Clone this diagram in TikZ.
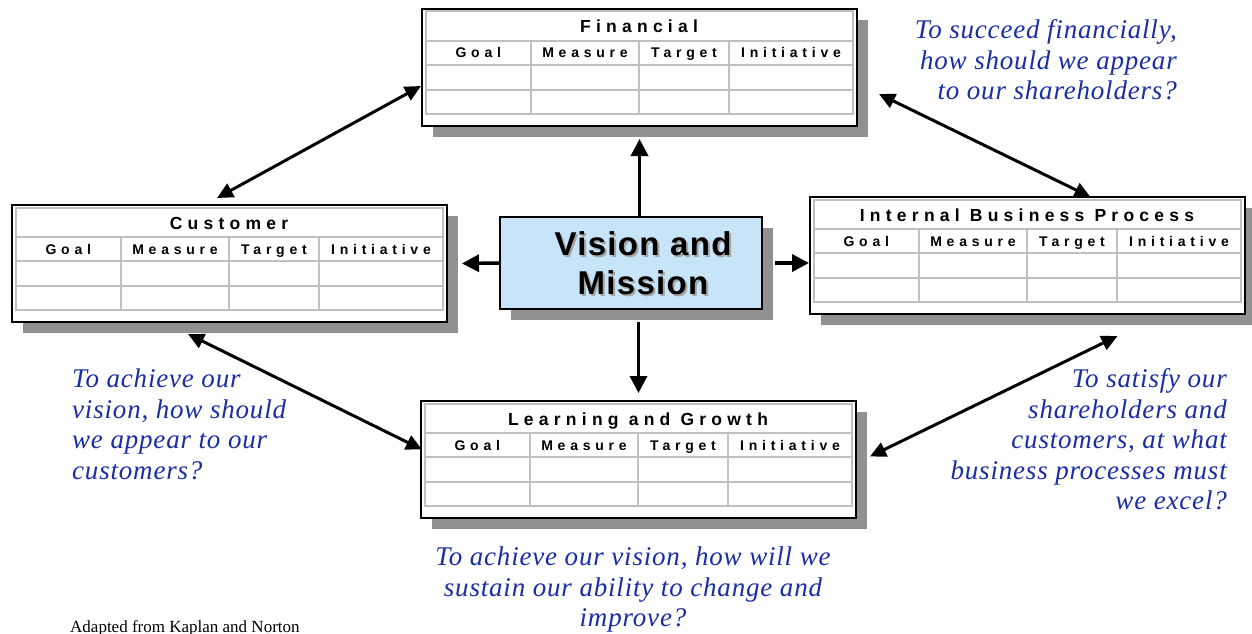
\documentclass[tikz,border=0pt]{standalone}
\usepackage{fontspec}
\setmainfont{Liberation Serif}
\newfontfamily\ttlfont{Liberation Sans}[LetterSpace=30]
\newfontfamily\hdrfont{Liberation Sans}[LetterSpace=34]
\newfontfamily\visfont{Liberation Sans}[LetterSpace=4]
\newfontfamily\qfont{Liberation Serif}[LetterSpace=3]
\usetikzlibrary{arrows.meta,shadows,calc}

\definecolor{qblue}{RGB}{25,45,165}
\definecolor{visfill}{RGB}{200,228,248}
\definecolor{shadowgray}{RGB}{145,145,145}
\definecolor{gridgray}{RGB}{192,192,192}
\definecolor{textshade}{RGB}{165,165,165}

% One perspective: framed table with title, four column heads and two empty rows
\newcommand{\bsctable}[2]{%
  \begin{scope}[shift={(#1.north west)}]
    \draw[gridline] (4.5,3.5) rectangle (432,106);
    \draw[gridline] (4.5,33) -- (432,33) (4.5,57) -- (432,57) (4.5,82) -- (432,82);
    \draw[gridline] (110,33) -- (110,106) (218,33) -- (218,106) (308,33) -- (308,106);
    \node[ttl] (#1-title) at (218,25) {#2};
    \node[hdr] (#1-goal) at (57.25,50) {Goal};
    \node[hdr] (#1-measure) at (164,50) {Measure};
    \node[hdr] (#1-target) at (263,50) {Target};
    \node[hdr] (#1-initiative) at (370,50) {Initiative};
  \end{scope}}

\begin{document}
\begin{tikzpicture}[x=1pt,y=-1pt,
  persp/.style={draw=black, line width=2pt, fill=white, inner sep=0pt,
    minimum width=435pt, minimum height=117pt, anchor=north west,
    drop shadow={shadow xshift=10.5pt, shadow yshift=-11pt, fill=shadowgray, opacity=1}},
  visbox/.style={draw=black, line width=1.5pt, fill=visfill, inner sep=0pt,
    minimum width=262pt, minimum height=92pt,
    drop shadow={shadow xshift=11pt, shadow yshift=-11pt, fill=shadowgray, opacity=1}},
  gridline/.style={draw=gridgray, line width=2pt},
  ttl/.style={anchor=base, inner sep=0pt, font=\ttlfont\bfseries\fontsize{17.5}{20}\selectfont},
  hdr/.style={anchor=base, inner sep=0pt, font=\hdrfont\bfseries\fontsize{14}{16}\selectfont},
  vistext/.style={align=center, inner sep=0pt, font=\visfont\bfseries\fontsize{33}{39}\selectfont},
  question/.style={inner sep=0pt, text=qblue, font=\qfont\itshape\fontsize{27}{30.5}\selectfont},
  arr/.style={line width=3.5pt, -{Triangle[length=17pt,width=17pt]}},
  dbl/.style={line width=3pt, {Triangle[length=16pt,width=15pt]}-{Triangle[length=16pt,width=15pt]}}]

\useasboundingbox (0,0) rectangle (1252,634);

% the four perspectives
\node[persp] (fin) at (421,8) {};
\bsctable{fin}{Financial}
\node[persp] (cus) at (11,204) {};
\bsctable{cus}{Customer}
\node[persp] (ibp) at (809,196) {};
\bsctable{ibp}{Internal Business Process}
\node[persp] (lrn) at (420,400) {};
\bsctable{lrn}{Learning and Growth}

% vision and mission in the middle
\node[visbox] (vis) at (631,263) {};
\node[vistext, text=textshade] (visshade) at (645,265.5) {Vision and\\Mission};
\node[vistext] (vistxt) at (643,263.5) {Vision and\\Mission};

% arrows out of the centre
\draw[arr] (vis.north -| fin.south) -- ([yshift=-12pt]fin.south);
\draw[arr] ([yshift=-12pt]vis.south -| lrn.north) -- ([yshift=7pt]lrn.north);
\draw[arr] (vis.west) -- ([xshift=14pt]cus.east);
\draw[arr] ([xshift=12pt]vis.east) -- (ibp.west |- vis.east);

% links between neighbouring perspectives
\draw[dbl] ([yshift=-18.5pt]fin.west) -- ([xshift=-12.5pt,yshift=6pt]cus.north);
\draw[dbl] ([xshift=21pt,yshift=-26.5pt]fin.east) -- ([xshift=63pt,yshift=-1pt]ibp.north);
\draw[dbl] ([xshift=-41.5pt,yshift=-11pt]cus.south) -- ([xshift=2pt,yshift=10pt]lrn.west);
\draw[dbl] ([xshift=90pt,yshift=-21pt]ibp.south) -- ([xshift=13pt,yshift=3pt]lrn.east);

% guiding questions
\node[question, align=right, anchor=north east] (qfin) at (1177,19.6)
  {To succeed financially,\\how should we appear\\to our shareholders?};
\node[question, align=left, anchor=north west] (qcus) at (72,368.6)
  {To achieve our\\vision, how should\\we appear to our\\customers?};
\node[question, align=right, anchor=north east] (qibp) at (1227,368.6)
  {To satisfy our\\shareholders and\\customers, at what\\business processes must\\we excel?};
\node[question, align=center, anchor=north] (qlrn) at (633,546.6)
  {To achieve our vision, how will we\\sustain our ability to change and\\improve?};

\node[anchor=base west, inner sep=0pt, font=\fontsize{17}{19}\selectfont] (src) at (70,632)
  {Adapted from Kaplan and Norton};
\end{tikzpicture}
\end{document}
